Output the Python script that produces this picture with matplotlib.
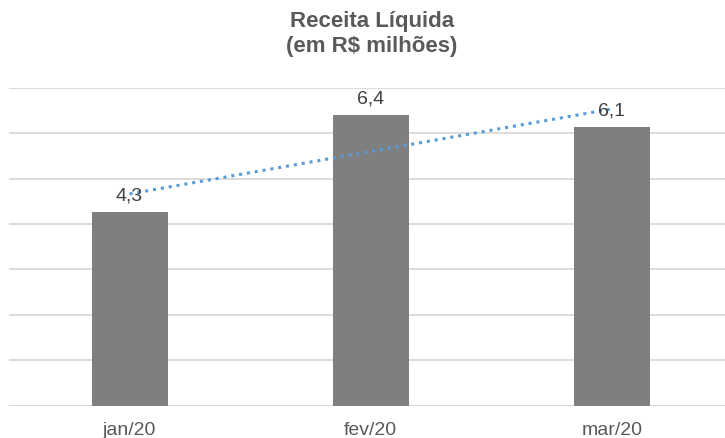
import numpy as np
import matplotlib.pyplot as plt

categories = ['jan/20', 'fev/20', 'mar/20']
receita = [4.26, 6.40, 6.13]
rotulos = ['4,3', '6,4', '6,1']

plt.rcParams['font.family'] = ['Liberation Sans', 'DejaVu Sans']

fig = plt.figure(figsize=(7.25, 4.39), dpi=100)
ax = fig.add_axes([9 / 725, 32.3 / 439, 716 / 725, 318 / 439])

x = np.arange(len(categories))
ax.bar(x, receita, width=0.315, color='#7f7f7f', zorder=2)

# linha de tendencia linear
coef = np.polyfit(x, receita, 1)
ax.plot(x, np.polyval(coef, x), color='#5b9bd5', linestyle=(0, (1, 1.6)),
        linewidth=2.2, zorder=3)

for xi, v, txt in zip(x, receita, rotulos):
    ax.text(xi, v + 0.38, txt, ha='center', va='center', fontsize=14,
            color='#404040', zorder=4)

ax.set_xlim(-0.5, 2.47)
ax.set_ylim(0, 7)
ax.set_yticks(range(0, 8))
ax.set_yticklabels([])
ax.tick_params(axis='y', length=0)
ax.tick_params(axis='x', length=0, pad=11, labelsize=14, labelcolor='#595959')
ax.set_xticks(x)
ax.set_xticklabels(categories)
ax.grid(axis='y', color='#d9d9d9', linewidth=1.3, zorder=0)
for s in ax.spines.values():
    s.set_visible(False)
ax.axhline(0, color='#d9d9d9', linewidth=1.5, zorder=1)

fig.text(372 / 725, 1 - 34 / 439, 'Receita Líquida\n(em R$ milhões)', ha='center',
         va='center', fontsize=16, fontweight='bold', color='#595959',
         linespacing=1.2)

fig.savefig('out.png', dpi=100)
